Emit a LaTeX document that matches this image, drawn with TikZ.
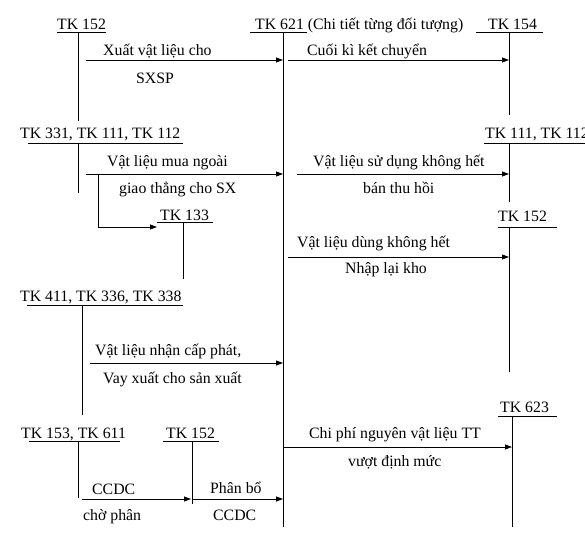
\documentclass[tikz,border=0pt]{standalone}
\usepackage{fontspec}
\setmainfont{Liberation Serif}
\usetikzlibrary{arrows.meta}
\begin{document}
\begin{tikzpicture}[x=1pt,y=-1pt,
  lbl/.style={anchor=base west,inner sep=0pt,font=\fontsize{15.8}{18}\selectfont},
  tline/.style={line width=0.8pt},
  flow/.style={line width=0.8pt,-{Triangle[length=7pt,width=5pt]}}]
\useasboundingbox (0,0) rectangle (585,546);
% ---- account titles ----
\node[lbl] (t152a) at (57,29) {TK 152};
\node[lbl] (t621) at (255,29) {TK 621 (Chi tiết từng đối tượng)};
\node[lbl] (t154) at (488,29) {TK 154};
\node[lbl] (t331) at (20,138) {TK 331, TK 111, TK 112};
\node[lbl] (t133) at (160,220) {TK 133};
\node[lbl] (t111) at (485,138) {TK 111, TK 112};
\node[lbl] (t152b) at (498,221) {TK 152};
\node[lbl] (t411) at (20,301) {TK 411, TK 336, TK 338};
\node[lbl] (t153) at (21,438) {TK 153, TK 611};
\node[lbl] (t152c) at (166,438) {TK 152};
\node[lbl] (t623) at (500,412) {TK 623};
% ---- T-account bars and stems ----
\coordinate (b152aL) at (57,32);  \coordinate (b152aR) at (106,32);
\coordinate (s152aT) at (78,32);  \coordinate (s152aB) at (78,121);
\coordinate (b621L) at (250,32);  \coordinate (b621R) at (307,32);
\coordinate (s621T) at (283,32);  \coordinate (s621B) at (283,527);
\coordinate (b154L) at (476,32);  \coordinate (b154R) at (543,32);
\coordinate (s154T) at (509,32);  \coordinate (s154B) at (509,115);
\coordinate (b331L) at (28,143);  \coordinate (b331R) at (183,143);
\coordinate (s331T) at (78,143);  \coordinate (s331B) at (78,193);
\coordinate (b133L) at (157,222); \coordinate (b133R) at (213,222);
\coordinate (s133T) at (183,222); \coordinate (s133B) at (183,279);
\coordinate (b111L) at (484,143); \coordinate (b111R) at (590,143);
\coordinate (s111T) at (509,143); \coordinate (s111B) at (509,202);
\coordinate (b152bL) at (498,227); \coordinate (b152bR) at (557,227);
\coordinate (s152bT) at (509,227); \coordinate (s152bB) at (509,372);
\coordinate (b411L) at (27,305);  \coordinate (b411R) at (183,305);
\coordinate (s411T) at (82,305);  \coordinate (s411B) at (82,415);
\coordinate (b153L) at (29,441);  \coordinate (b153R) at (120,441);
\coordinate (s153T) at (78,441);  \coordinate (s153B) at (78,498);
\coordinate (b152cL) at (163,441); \coordinate (b152cR) at (219,441);
\coordinate (s152cT) at (192,441); \coordinate (s152cB) at (192,504);
\coordinate (b623L) at (498,416); \coordinate (b623R) at (557,416);
\coordinate (s623T) at (512,416); \coordinate (s623B) at (512,527);
\foreach \a in {152a,621,154,331,133,111,152b,411,153,152c,623}{
  \draw[tline] (b\a L) -- (b\a R);
  \draw[tline] (s\a T) -- (s\a B);
}
% ---- arrow start points ----
\coordinate (a1) at (86,60);
\coordinate (a2) at (288,60);
\coordinate (a3) at (86,174);
\coordinate (a3b) at (98,174);
\coordinate (a3e) at (157,227);
\coordinate (a4) at (297,174);
\coordinate (a5) at (288,257);
\coordinate (a6) at (90,363);
\coordinate (a7) at (82,499);
\coordinate (a8) at (192,499);
\coordinate (a9) at (283,447);
% ---- flows ----
\draw[flow] (a1) -- (s621T |- a1);
\draw[flow] (a2) -- (s154T |- a2);
\draw[flow] (a3) -- (s621T |- a3);
\draw[flow] (a3b) |- (a3e);
\draw[flow] (a4) -- (s111T |- a4);
\draw[flow] (a5) -- (s152bT |- a5);
\draw[flow] (a6) -- (s621T |- a6);
\draw[flow] (a7) -- ([xshift=-1pt]s152cT |- a7);
\draw[flow] (a8) -- (s621T |- a8);
\draw[flow] (a9) -- (s623T |- a9);
% ---- labels ----
\node[lbl] (l1a) at (103,55) {Xuất vật liệu cho};
\node[lbl] (l1b) at (136,83) {SXSP};
\node[lbl] (l2a) at (307,55) {Cuối kì kết chuyển};
\node[lbl] (l3a) at (107,166) {Vật liệu mua ngoài};
\node[lbl] (l3b) at (119,193) {giao thẳng cho SX};
\node[lbl] (l4a) at (313,166) {Vật liệu sử dụng không hết};
\node[lbl] (l4b) at (363,193) {bán thu hồi};
\node[lbl] (l5a) at (297,247) {Vật liệu dùng không hết};
\node[lbl] (l5b) at (345,273) {Nhập lại kho};
\node[lbl] (l6a) at (95,355) {Vật liệu nhận cấp phát,};
\node[lbl] (l6b) at (103,383) {Vay xuất cho sản xuất};
\node[lbl] (l7a) at (92,494) {CCDC};
\node[lbl] (l7b) at (83,520) {chờ phân};
\node[lbl] (l8a) at (210,493) {Phân bổ};
\node[lbl] (l8b) at (213,520) {CCDC};
\node[lbl] (l9a) at (309,438) {Chi phí nguyên vật liệu TT};
\node[lbl] (l9b) at (348,466) {vượt định mức};
\end{tikzpicture}
\end{document}
